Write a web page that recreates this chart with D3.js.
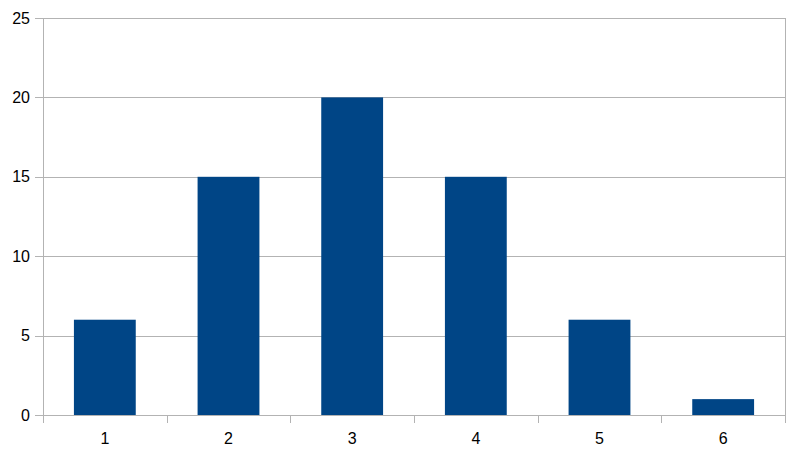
<!DOCTYPE html>
<html><head><meta charset="utf-8">
<script src="https://cdn.jsdelivr.net/npm/d3@7/dist/d3.min.js"></script>
<style>body{margin:0;background:#fff}svg{display:block}text{font-family:"Liberation Sans",Arial,sans-serif}</style>
</head><body>
<svg id="c" width="795" height="455"></svg>
<script>
const categories = ["1","2","3","4","5","6"];
const values = [6, 15, 20, 15, 6, 1];
const yTicks = [0, 5, 10, 15, 20, 25];

const svg = d3.select("#c");
const L = 43, R = 785, T = 18, B = 415;
const x = d3.scaleBand().domain(categories).range([L, R]).paddingInner(0).paddingOuter(0);
const y = d3.scaleLinear().domain([0, 25]).range([B, T]);
const grid = "#b3b3b3";

// gridlines
svg.append("g").selectAll("line").data(yTicks).join("line")
  .attr("x1", L - 8).attr("x2", R).attr("y1", d => Math.round(y(d)) + 0.5).attr("y2", d => Math.round(y(d)) + 0.5)
  .attr("stroke", grid).attr("stroke-width", 1);

// vertical left/right lines
svg.append("line").attr("x1", L + 0.5).attr("x2", L + 0.5).attr("y1", T).attr("y2", B + 8).attr("stroke", grid);
svg.append("line").attr("x1", R + 0.5).attr("x2", R + 0.5).attr("y1", T).attr("y2", B + 8).attr("stroke", grid);

// x ticks at band boundaries
const bounds = categories.map(c => x(c)).concat([R]);
svg.append("g").selectAll("line").data(bounds).join("line")
  .attr("x1", d => Math.round(d) + 0.5).attr("x2", d => Math.round(d) + 0.5)
  .attr("y1", B).attr("y2", B + 8).attr("stroke", grid);

// bars
const bw = x.bandwidth() * 0.5;
svg.append("g").selectAll("rect").data(values).join("rect")
  .attr("x", (d, i) => x(categories[i]) + (x.bandwidth() - bw) / 2)
  .attr("width", bw)
  .attr("y", d => y(d))
  .attr("height", d => B - y(d))
  .attr("fill", "#004586");

// y labels
svg.append("g").selectAll("text").data(yTicks).join("text")
  .attr("x", 30).attr("y", d => y(d)).attr("dy", "0.35em")
  .attr("text-anchor", "end").attr("font-size", 16).attr("fill", "#000")
  .text(d => d);

// x labels
svg.append("g").selectAll("text").data(categories).join("text")
  .attr("x", d => x(d) + x.bandwidth() / 2).attr("y", 444)
  .attr("text-anchor", "middle").attr("font-size", 16).attr("fill", "#000")
  .text(d => d);
</script>
</body></html>
